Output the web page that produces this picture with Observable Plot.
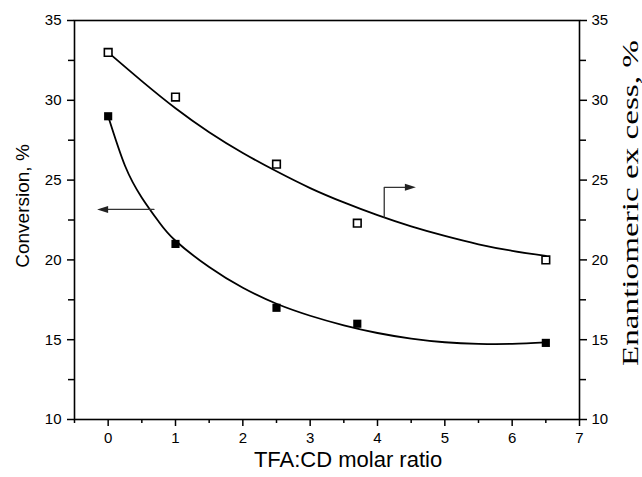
<!DOCTYPE html>
<html><head><meta charset="utf-8">
<script src="https://cdn.jsdelivr.net/npm/d3@7"></script>
<script src="https://cdn.jsdelivr.net/npm/@observablehq/plot@0.6"></script>
<style>body{margin:0;background:#fff}</style>
</head><body><div id="chart"></div>
<script>
// Measured points
const ratio = [0, 1, 2.5, 3.7, 6.5];
const conversion = [29.0, 21.0, 17.0, 16.0, 14.8];
const enantiomericExcess = [33.0, 30.2, 26.0, 22.3, 20.0];

// Fitted curves
const convCurveX = [0, 0.25, 0.5, 0.75, 1.0, 1.5, 2.0, 2.5, 3.0, 3.5, 4.0, 4.5, 5.0, 5.5, 6.0, 6.5];
const convCurveY = [29.0, 25.9, 23.9, 22.4, 21.2, 19.55, 18.25, 17.25, 16.5, 15.9, 15.42, 15.07, 14.84, 14.74, 14.74, 14.83];
const eeCurveX = [0, 0.5, 1.0, 1.5, 2.0, 2.5, 3.0, 3.5, 4.0, 4.5, 5.0, 5.5, 6.0, 6.5];
const eeCurveY = [33.0, 31.2, 29.5, 28.0, 26.7, 25.55, 24.5, 23.6, 22.8, 22.1, 21.5, 20.98, 20.57, 20.25];

// Axis ticks
const xMajor = [0, 1, 2, 3, 4, 5, 6, 7];
const xMinor = [-0.5, 0.5, 1.5, 2.5, 3.5, 4.5, 5.5, 6.5];
const yMajor = [10, 15, 20, 25, 30, 35];
const yMinor = [12.5, 17.5, 22.5, 27.5, 32.5];

// Pointer arrows (which axis each curve belongs to)
const leftArrowX = [0.68, -0.1];
const leftArrowY = [23.16, 23.16];
const rightArrowX = [4.1, 4.1, 4.5];
const rightArrowY = [22.68, 24.55, 24.55];
const arrowTipX = [-0.164, 4.57];
const arrowTipY = [23.16, 24.55];
const arrowTipDir = [-90, 90];

const pts = (xs, ys) => xs.map((x, i) => ({x, y: ys[i]}));
const head = {draw(ctx, l, r) { ctx.moveTo(0, -l); ctx.lineTo(-r, 0); ctx.lineTo(r, 0); ctx.closePath(); }};
const sans = "Liberation Sans, Arial, sans-serif";
const serif = "Liberation Serif, Times New Roman, serif";

const chart = Plot.plot({
  width: 642, height: 477,
  marginLeft: 74, marginRight: 63, marginTop: 20, marginBottom: 58,
  style: {fontFamily: sans, background: "#fff", color: "#000"},
  x: {domain: [-0.5, 7], label: null},
  y: {domain: [10, 35], label: null},
  marks: [
    Plot.axisX({ticks: xMinor, tickSize: 4, tickFormat: () => "", strokeWidth: 1.5}),
    Plot.axisX({ticks: xMajor, tickSize: 7, tickPadding: 6, fontSize: 15, strokeWidth: 1.5, tickFormat: d => d}),
    Plot.axisY({anchor: "left", ticks: yMinor, tickSize: 6, tickFormat: () => "", strokeWidth: 1.5}),
    Plot.axisY({anchor: "left", ticks: yMajor, tickSize: 7, tickPadding: 6, fontSize: 15, strokeWidth: 1.5, tickFormat: d => d}),
    Plot.axisY({anchor: "right", ticks: yMinor, tickSize: 6, tickFormat: () => "", strokeWidth: 1.5}),
    Plot.axisY({anchor: "right", ticks: yMajor, tickSize: 7, tickPadding: 5, fontSize: 15, strokeWidth: 1.5, tickFormat: d => d}),
    Plot.frame({stroke: "#000", strokeWidth: 1.6}),
    Plot.line(pts(convCurveX, convCurveY), {x: "x", y: "y", curve: "natural", stroke: "#000", strokeWidth: 1.8}),
    Plot.line(pts(eeCurveX, eeCurveY), {x: "x", y: "y", curve: "natural", stroke: "#000", strokeWidth: 1.8}),
    Plot.line(pts(leftArrowX, leftArrowY), {x: "x", y: "y", stroke: "#333", strokeWidth: 1.3}),
    Plot.line(pts(rightArrowX, rightArrowY), {x: "x", y: "y", stroke: "#333", strokeWidth: 1.3}),
    Plot.vector(arrowTipX.map((x, i) => ({x, y: arrowTipY[i], r: arrowTipDir[i]})),
      {x: "x", y: "y", rotate: "r", length: 11, r: 3.5, shape: head, anchor: "end", fill: "#222", stroke: "none"}),
    Plot.dot(pts(ratio, conversion), {x: "x", y: "y", symbol: "square", r: 4.6, fill: "#000", stroke: "none"}),
    Plot.dot(pts(ratio, enantiomericExcess), {x: "x", y: "y", symbol: "square", r: 4.3, fill: "#fff", stroke: "#000", strokeWidth: 1.6}),
    Plot.text(["Conversion, %"], {frameAnchor: "left", textAnchor: "middle", dx: -52, dy: -14, rotate: -90, fontSize: 19, fontFamily: sans}),
    Plot.text(["TFA:CD molar ratio"], {frameAnchor: "bottom", textAnchor: "middle", dx: 21, dy: 47, fontSize: 22, fontFamily: sans}),
    Plot.text(["Enantiomeric ex cess, %"], {frameAnchor: "right", textAnchor: "middle", dx: 51, dy: -17, rotate: -90, fontSize: 24, fontFamily: serif, className: "ee-title"})
  ]
});
document.getElementById("chart").appendChild(chart);
// the reference's right-hand title is drawn stretched along its length
chart.querySelectorAll(".ee-title text").forEach(t => {
  t.setAttribute("textLength", 326);
  t.setAttribute("lengthAdjust", "spacingAndGlyphs");
});
</script>
</body></html>
